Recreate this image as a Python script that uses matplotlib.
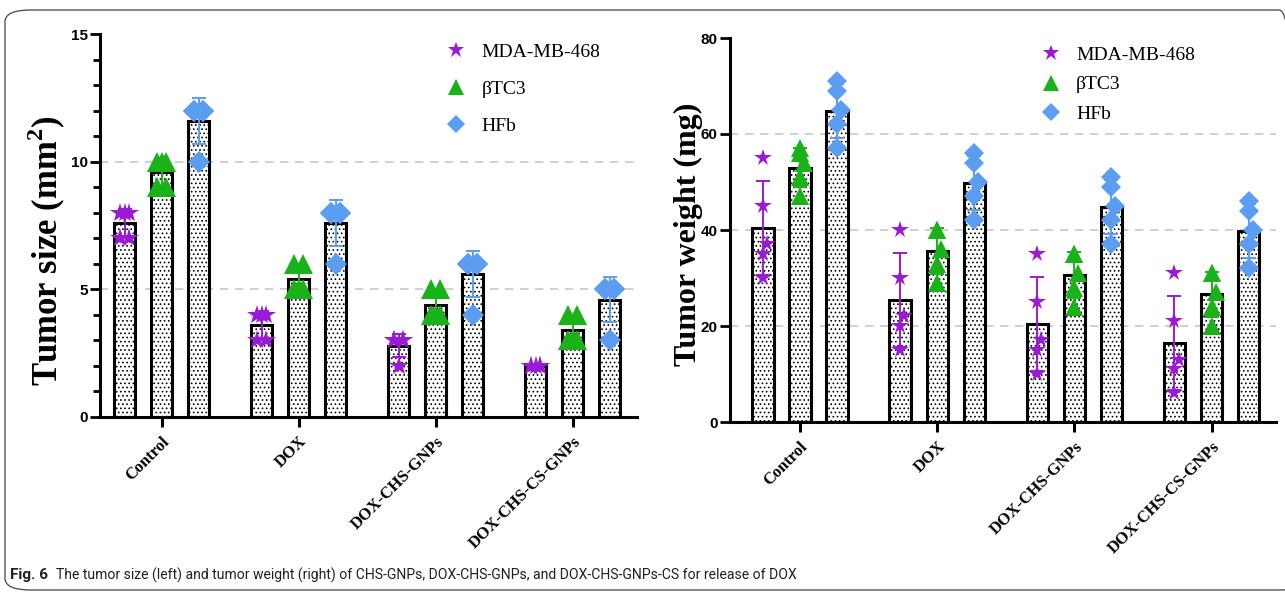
import numpy as np
import matplotlib.pyplot as plt
from matplotlib.lines import Line2D
from matplotlib.patches import FancyBboxPatch
from matplotlib.ticker import MultipleLocator

plt.rcParams['mathtext.fontset'] = 'custom'
plt.rcParams['mathtext.rm'] = 'Liberation Serif'
plt.rcParams['mathtext.bf'] = 'Liberation Serif:bold'
plt.rcParams['hatch.linewidth'] = 0.7
plt.rcParams['hatch.color'] = '#333333'

groups = ["Control", "DOX", "DOX-CHS-GNPs", "DOX-CHS-CS-GNPs"]
cell_lines = ["MDA-MB-468", "βTC3", "HFb"]

# tumor size (mm2), five mice per group
size_mda = [[8, 8, 7, 7, 8], [4, 4, 3, 3, 4], [3, 3, 3, 3, 2], [2, 2, 2, 2, 2]]
size_btc3 = [[10, 10, 9, 9, 10], [6, 6, 5, 5, 5], [5, 5, 4, 4, 4], [4, 4, 3, 3, 3]]
size_hfb = [[12, 12, 12, 12, 10], [8, 8, 8, 8, 6], [6, 6, 6, 6, 4], [5, 5, 5, 5, 3]]

# tumor weight (mg)
weight_mda = [[55, 45, 37, 35, 30], [40, 30, 22, 20, 15], [35, 25, 17, 15, 10], [31, 21, 13, 11, 6]]
weight_btc3 = [[57, 56, 54, 51, 47], [40, 40, 36, 33, 29], [35, 35, 31, 28, 24], [31, 31, 27, 24, 20]]
weight_hfb = [[71, 69, 65, 62, 57], [56, 54, 50, 47, 42], [51, 49, 45, 42, 37], [46, 44, 40, 37, 32]]

colors = ["#9a1ad6", "#19b319", "#5b9df0"]
markers = ["*", "^", "D"]

fig = plt.figure(figsize=(12.85, 5.92), dpi=100)

# rounded frame around the figure
frame = FancyBboxPatch((5 / 1285, 2 / 592), 1300 / 1285, 580 / 592,
                       boxstyle="round,pad=0,rounding_size=0.02",
                       transform=fig.transFigure, facecolor="none",
                       edgecolor="#555555", linewidth=1.0)
fig.patches.append(frame)


def draw_panel(ax, series, xlim, ylim, grid_vals, jitter, msize, ylabel, label_xy,
               leg_anchor, leg_spacing, label_size):
    x = np.arange(len(groups))
    offs = [-0.27, 0.0, 0.27]
    for k, data in enumerate(series):
        arr = np.array(data, dtype=float)
        means = arr.mean(axis=1)
        sds = arr.std(axis=1, ddof=1)
        ax.bar(x + offs[k], means, width=0.155, facecolor="white", edgecolor="black",
               linewidth=2.2, hatch="....", zorder=2)
        ax.errorbar(x + offs[k], means, yerr=sds, fmt="none", ecolor=colors[k],
                    elinewidth=1.4, capsize=5, capthick=1.4, zorder=3)
        for i in range(len(groups)):
            ax.plot(x[i] + offs[k] + np.array(jitter), arr[i], linestyle="none",
                    marker=markers[k], color=colors[k], markersize=msize if k != 2 else msize * 0.75,
                    markeredgewidth=0, zorder=4)
    for g in grid_vals:
        ax.axhline(g, color="#c8c8c8", linestyle=(0, (5, 4)), linewidth=1.2, zorder=1)
    ax.set_xlim(*xlim)
    ax.set_ylim(*ylim)
    ax.spines["top"].set_visible(False)
    ax.spines["right"].set_visible(False)
    ax.spines["left"].set_linewidth(2.2)
    ax.spines["bottom"].set_linewidth(2.2)
    ax.set_xticks(x)
    ax.set_xticklabels(groups, rotation=45, ha="right", rotation_mode="anchor",
                       family="Liberation Serif", fontweight="bold", fontsize=12)
    ax.tick_params(axis="x", length=7, width=2.2, pad=5)
    ax.tick_params(axis="y", length=7, width=2.0, pad=2)
    ax.set_ylabel(ylabel, family="Liberation Serif", fontweight="bold", fontsize=label_size)
    ax.yaxis.set_label_coords(*label_xy)

    handles = [Line2D([], [], linestyle="none", marker=markers[k], color=colors[k],
                      markersize=12 if k != 2 else 9, markeredgewidth=0)
               for k in range(3)]
    ax.legend(handles, cell_lines, loc="upper left", bbox_to_anchor=leg_anchor,
              frameon=False, prop={"family": "Liberation Serif", "size": 14},
              handlelength=1.0, handletextpad=0.8, labelspacing=leg_spacing,
              borderpad=0, borderaxespad=0)


ax1 = fig.add_axes([100 / 1285, 175 / 592, 537 / 1285, 383 / 592])
draw_panel(ax1, [size_mda, size_btc3, size_hfb], (-0.45, 3.47), (0, 15), [5, 10],
           [-0.035, 0.035, -0.035, 0.035, 0.0], 15,
           "Tumor size (mm$^\\mathbf{2}$)", (-0.06, 0.435), (0.645, 0.975), 1.0, 25)
ax1.set_yticks([0, 5, 10, 15])
ax1.yaxis.set_minor_locator(MultipleLocator(1))
ax1.tick_params(axis="y", which="minor", length=5, width=2.0)

ax2 = fig.add_axes([730 / 1285, 170 / 592, 546 / 1285, 384 / 592])
draw_panel(ax2, [weight_mda, weight_btc3, weight_hfb], (-0.51, 3.47), (0, 80), [20, 40, 60],
           [0.0, 0.0, 0.03, 0.0, 0.0], 13,
           "Tumor weight (mg)", (-0.05, 0.49), (0.57, 0.978), 0.6, 23)
ax2.set_yticks([0, 20, 40, 60, 80])

for ax in (ax1, ax2):
    for t in ax.get_yticklabels():
        t.set_family("Liberation Sans")
        t.set_fontweight("bold")
        t.set_fontsize(11)

# caption
cap1 = fig.text(10 / 1285, 17 / 592, "Fig. 6", family="Roboto",
                fontweight="bold", fontsize=11, va="center", color="#231f20")
fig.canvas.draw()
bb = cap1.get_window_extent()
fig.text((bb.x1 + 8) / 1285, 17 / 592,
         "The tumor size (left) and tumor weight (right) of CHS-GNPs, DOX-CHS-GNPs, and DOX-CHS-GNPs-CS for release of DOX",
         family="Roboto", fontsize=10.1, va="center", color="#231f20")

fig.savefig("out.png", dpi=100)
